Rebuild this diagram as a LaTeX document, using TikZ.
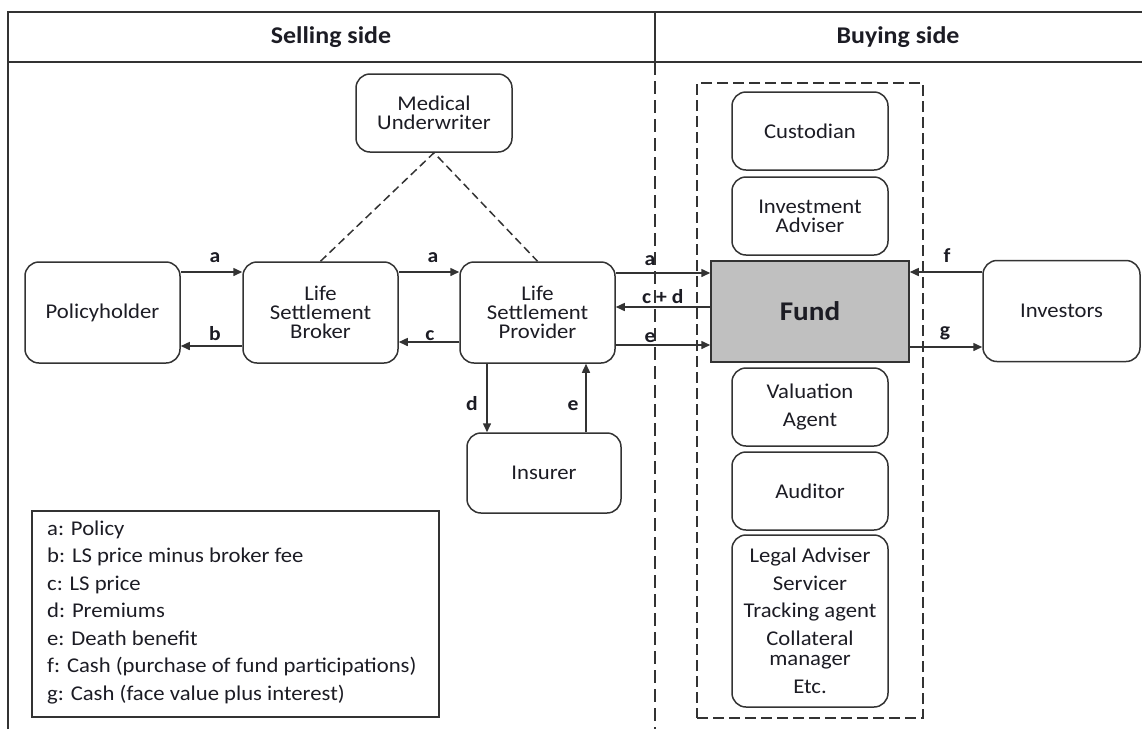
\documentclass[tikz,border=0pt]{standalone}
\usepackage{fontspec}
\setmainfont{Carlito}[FakeStretch=1.08]
\usetikzlibrary{arrows.meta}
\definecolor{ln}{HTML}{333333}
\definecolor{tx}{HTML}{1C1C24}
\definecolor{fundgray}{HTML}{C0C0C0}

\begin{document}
\begin{tikzpicture}[x=1pt,y=-1pt,
  box/.style={draw=ln, line width=1.5pt, rounded corners=14pt, align=center,
    text=tx, inner sep=0pt, minimum width=155pt,
    font=\fontsize{21}{19}\selectfont},
  flow/.style={draw=ln, line width=1.5pt, -{Triangle[length=9pt,width=8pt]}},
  lbl/.style={text=tx, inner sep=0pt, anchor=base,
    font=\bfseries\fontsize{20}{20}\selectfont},
  hdr/.style={text=tx, inner sep=0pt, font=\bfseries\fontsize{24}{24}\selectfont},
  dashline/.style={draw=ln, line width=1.5pt, dash pattern=on 11pt off 5pt},
]
\useasboundingbox (0,0) rectangle (1142,729);

% header band and side divider
\draw[ln, line width=1.6pt] (8,729) -- (8,12) -- (1142,12);
\draw[ln, line width=2.2pt] (8,62) -- (1142,62);
\draw[ln, line width=1.6pt] (655,12) -- (655,62);
\draw[dashline, dash pattern=on 13pt off 6pt] (655,62) -- (655,729);
\node[hdr] (sell) at (331,37) {Selling side};
\node[hdr] (buy) at (898,37) {Buying side};

% selling side parties
\node[box, minimum width=156pt, minimum height=78pt] (mu) at (434,113) {Medical\\Underwriter};
\node[box, minimum height=101pt] (pol) at (102.5,312.5) {Policyholder};
\node[box, minimum height=101pt] (brk) at (320.5,312.5) {Life\\Settlement\\Broker};
\node[box, minimum height=101pt] (prv) at (537.5,312.5) {Life\\Settlement\\Provider};
\node[box, minimum width=154pt, minimum height=80pt] (ins) at (544,473) {Insurer};

% buying side: fund and its service providers
\node[dashline, minimum width=226pt, minimum height=635pt, inner sep=0pt] (grp) at (810,400.5) {};
\node[box, minimum width=156pt, minimum height=78pt] (cus) at (810,131) {Custodian};
\node[box, minimum width=156pt, minimum height=78pt] (adv) at (810,216) {Investment\\Adviser};
\node[draw=ln, fill=fundgray, line width=1.5pt, minimum width=198pt, minimum height=101pt,
  inner sep=0pt, text=tx, font=\bfseries\fontsize{27}{27}\selectfont] (fund) at (810,311.5) {Fund};
\node[box, minimum width=156pt, minimum height=78pt] (val) at (810,407) {Valuation\\[9pt]Agent};
\node[box, minimum width=156pt, minimum height=78pt] (aud) at (810,491) {Auditor};
\node[box, minimum width=156pt, minimum height=172pt, font=\fontsize{21}{20.5}\selectfont] (oth) at (810,621)
  {Legal Adviser\\[7pt]Servicer\\[7pt]Tracking agent\\[7pt]Collateral\\manager\\[7pt]Etc.};
\node[box, minimum width=157pt, minimum height=101pt] (inv) at (1061.5,311) {Investors};

% underwriter links
\draw[dashline, dash pattern=on 8pt off 4.5pt] (brk.north) -- (mu.south) -- (prv.north);

% flows between parties
\draw[flow] (pol.east |- 0,272) -- (brk.west |- 0,272);
\draw[flow] (brk.west |- 0,346) -- (pol.east |- 0,346);
\draw[flow] (brk.east |- 0,272) -- (prv.west |- 0,272);
\draw[flow] (prv.west |- 0,342) -- (brk.east |- 0,342);
\draw[flow] (prv.east |- 0,273) -- (fund.west |- 0,273);
\draw[flow] (fund.west |- 0,307) -- (prv.east |- 0,307);
\draw[flow] (prv.east |- 0,345) -- (fund.west |- 0,345);
\draw[flow] (inv.west |- 0,272) -- (fund.east |- 0,272);
\draw[flow] (fund.east |- 0,347) -- (inv.west |- 0,347);
\draw[flow] (prv.south -| 487,0) -- (ins.north -| 487,0);
\draw[flow] (ins.north -| 586,0) -- (prv.south -| 586,0);

% flow labels
\node[lbl] (la1) at (215,262) {a};
\node[lbl] (lb)  at (215,340) {b};
\node[lbl] (la2) at (433,262) {a};
\node[lbl] (lc)  at (430,340) {c};
\node[lbl] (la3) at (650,265) {a};
\node[lbl, anchor=base west] (lcd) at (642,303) {c + d};
\node[lbl] (le)  at (650,342) {e};
\node[lbl] (lf)  at (947,262) {f};
\node[lbl] (lg)  at (945,336) {g};
\node[lbl] (ld)  at (472,410) {d};
\node[lbl] (le2) at (573,410) {e};

% key
\node[draw=ln, line width=1.5pt, minimum width=407pt, minimum height=206pt, inner sep=0pt,
  anchor=north west] (key) at (31,510) {};
\node[anchor=west, align=left, inner sep=0pt, text=tx, font=\fontsize{21}{27.5}\selectfont]
  (keytext) at (47,612) {a: Policy\\b: LS price minus broker fee\\c: LS price\\d: Premiums\\e: Death benefit\\f: Cash (purchase of fund participations)\\g: Cash (face value plus interest)};
\end{tikzpicture}
\end{document}
